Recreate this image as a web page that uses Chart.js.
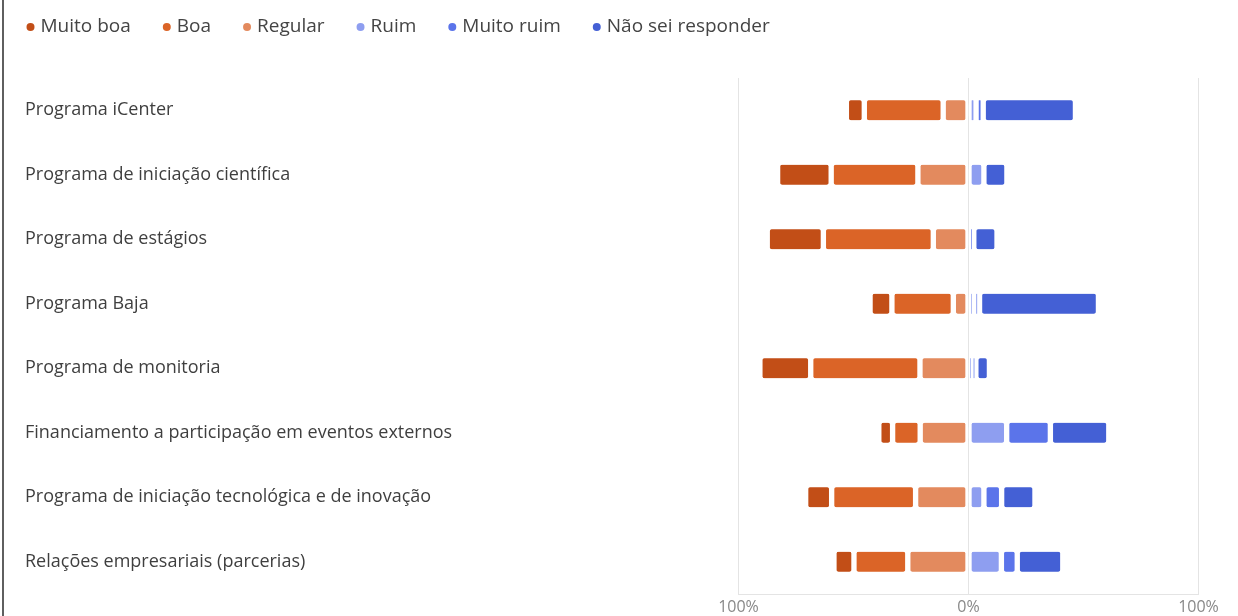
<!DOCTYPE html>
<html>
<head>
<meta charset="utf-8">
<script src="https://cdn.jsdelivr.net/npm/chart.js@4"></script>
<style>
  html, body { margin: 0; padding: 0; background: #fff; }
  #wrap { position: relative; width: 1238px; height: 616px; }
  #edge { position: absolute; left: 2px; top: 0; width: 2px; height: 616px; background: #5f5f5f; }
</style>
</head>
<body>
<div id="wrap">
  <canvas id="chart" width="1238" height="616"></canvas>
  <div id="edge"></div>
</div>
<script>
const categories = [
  'Programa iCenter',
  'Programa de iniciação científica',
  'Programa de estágios',
  'Programa Baja',
  'Programa de monitoria',
  'Financiamento a participação em eventos externos',
  'Programa de iniciação tecnológica e de inovação',
  'Relações empresariais (parcerias)'
];

// percentages (left side shown as negative)
const muitoBoa  = [7.8, 23.3, 24.4, 9.5, 22.1, 6.0, 11.3, 8.7];
const boa       = [34.3, 37.7, 47.8, 26.7, 47.5, 12.0, 36.5, 23.4];
const regular   = [11.0, 22.0, 15.3, 6.6, 21.1, 21.0, 23.0, 26.4];
const ruim      = [3.3, 6.7, 0, 2.4, 1.6, 16.6, 6.7, 14.3];
const muitoRuim = [3.1, 0, 2.3, 2.4, 1.6, 19.0, 7.7, 6.9];
const naoSei    = [40.1, 10.0, 10.1, 51.7, 5.9, 25.4, 14.5, 19.8];

const tickValues = [-100, 0, 100];
const tickLabels = ['100%', '0%', '100%'];

const legendOrder = ['Muito boa', 'Boa', 'Regular', 'Ruim', 'Muito ruim', 'Não sei responder'];

const colors = {
  'Muito boa': '#C24E17',
  'Boa': '#DB6427',
  'Regular': '#E38A5E',
  'Ruim': '#8E9EF0',
  'Muito ruim': '#5B74EA',
  'Não sei responder': '#4460D5'
};

function makeSet(label, values, negative) {
  return {
    label: label,
    // a 0 would get stacked on the wrong side, so leave it out
    data: values.map(v => v === 0 ? null : (negative ? -v : v)),
    backgroundColor: colors[label],
    borderColor: '#ffffff',
    borderWidth: { left: 3, right: 3, top: 0, bottom: 0 },
    borderSkipped: false,
    borderRadius: { topLeft: 5, topRight: 5, bottomLeft: 5, bottomRight: 5 },
    barThickness: 20
  };
}

// left stack grows out from zero, so Regular goes first
const datasets = [
  makeSet('Regular', regular, true),
  makeSet('Boa', boa, true),
  makeSet('Muito boa', muitoBoa, true),
  makeSet('Ruim', ruim, false),
  makeSet('Muito ruim', muitoRuim, false),
  makeSet('Não sei responder', naoSei, false)
];

const topLegend = {
  id: 'topLegend',
  afterDraw(chart) {
    const ctx = chart.ctx;
    ctx.save();
    ctx.font = '19px "Open Sans"';
    ctx.textBaseline = 'middle';
    let x = 30.5;
    const y = 27;
    legendOrder.forEach(name => {
      ctx.fillStyle = colors[name];
      ctx.beginPath();
      ctx.arc(x, y, 4, 0, Math.PI * 2);
      ctx.fill();
      ctx.fillStyle = '#444';
      ctx.fillText(name, x + 10, y);
      x += 10 + ctx.measureText(name).width + 36;
    });
    ctx.restore();
  }
};

new Chart(document.getElementById('chart'), {
  type: 'bar',
  data: { labels: categories, datasets: datasets },
  plugins: [topLegend],
  options: {
    indexAxis: 'y',
    responsive: false,
    animation: false,
    devicePixelRatio: 1,
    layout: { padding: { top: 78, left: 25, right: 39.5, bottom: 0 } },
    plugins: {
      legend: { display: false },
      tooltip: { enabled: false }
    },
    scales: {
      x: {
        stacked: true,
        min: -100,
        max: 100,
        afterBuildTicks: scale => {
          scale.ticks = tickValues.map(v => ({ value: v }));
        },
        afterFit: scale => { scale.height = 22; },
        ticks: {
          callback: (v, i) => tickLabels[i],
          font: { family: 'Open Sans', size: 16 },
          color: '#888',
          padding: 4,
          maxRotation: 0
        },
        grid: { color: '#e4e4e4', drawTicks: false },
        border: { color: '#e4e4e4' }
      },
      y: {
        stacked: true,
        afterFit: scale => { scale.width = 713.5; },
        grid: { display: false },
        border: { display: false },
        ticks: {
          crossAlign: 'far',
          font: { family: 'Open Sans', size: 18 },
          color: '#3f3f3f',
          padding: 0
        }
      }
    }
  }
});
</script>
</body>
</html>
